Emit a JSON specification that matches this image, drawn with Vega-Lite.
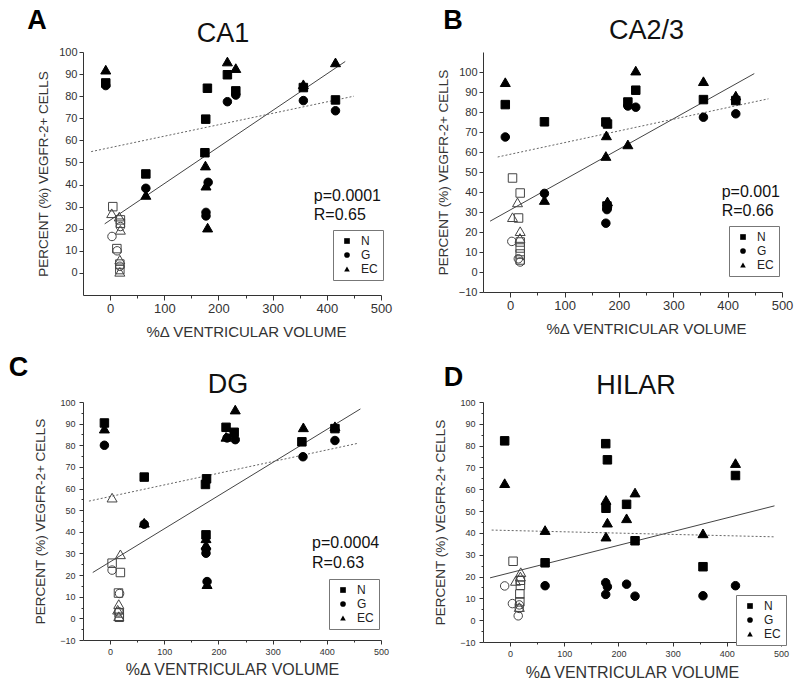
{
  "$schema": "https://vega.github.io/schema/vega-lite/v6.json",
  "padding": {"left": 8, "top": 6, "right": 5, "bottom": 5},
  "background": "white",
  "config": {
    "font": "Liberation Sans",
    "view": {"stroke": null},
    "point": {"opacity": 1},
    "axis": {"grid": false, "domainColor": "#333", "tickColor": "#333", "labelColor": "#333", "titleColor": "#333", "titleFontWeight": "normal", "labelFlush": false, "labelOverlap": false},
    "legend": {"strokeColor": "#777", "padding": 5, "symbolSize": 32, "labelFontSize": 12, "labelColor": "#222", "rowPadding": 2, "labelOffset": 8, "symbolOffset": 3, "symbolFillColor": "#000", "symbolStrokeColor": "#000", "symbolStrokeWidth": 0, "symbolOpacity": 1, "fillColor": "white"}
  },
  "datasets": {
    "pts": [
      {"p":"A","t":"N","o":0,"x":-8,"y":86},{"p":"A","t":"N","o":0,"x":66,"y":44.8},{"p":"A","t":"N","o":0,"x":179.6,"y":83.6},{"p":"A","t":"N","o":0,"x":176.5,"y":69.6},{"p":"A","t":"N","o":0,"x":175,"y":54.4},{"p":"A","t":"N","o":0,"x":216.5,"y":89.7},{"p":"A","t":"N","o":0,"x":232,"y":82.4},{"p":"A","t":"N","o":0,"x":356.7,"y":83.9},{"p":"A","t":"N","o":0,"x":416,"y":78.3},
      {"p":"A","t":"G","o":0,"x":-8,"y":84.8},{"p":"A","t":"G","o":0,"x":66,"y":38.3},{"p":"A","t":"G","o":0,"x":181,"y":41},{"p":"A","t":"G","o":0,"x":177,"y":27.4},{"p":"A","t":"G","o":0,"x":177,"y":25.8},{"p":"A","t":"G","o":0,"x":216.5,"y":77.5},{"p":"A","t":"G","o":0,"x":232,"y":80.5},{"p":"A","t":"G","o":0,"x":356.7,"y":78},{"p":"A","t":"G","o":0,"x":416,"y":73.4},
      {"p":"A","t":"EC","o":0,"x":-8,"y":92},{"p":"A","t":"EC","o":0,"x":66,"y":35.3},{"p":"A","t":"EC","o":0,"x":176,"y":48.6},{"p":"A","t":"EC","o":0,"x":177,"y":39.5},{"p":"A","t":"EC","o":0,"x":180,"y":20.5},{"p":"A","t":"EC","o":0,"x":216.5,"y":95.7},{"p":"A","t":"EC","o":0,"x":232,"y":92.7},{"p":"A","t":"EC","o":0,"x":356.7,"y":85.4},{"p":"A","t":"EC","o":0,"x":416,"y":95.3},
      {"p":"A","t":"N","o":1,"x":5,"y":30},{"p":"A","t":"N","o":1,"x":19,"y":24},{"p":"A","t":"N","o":1,"x":19,"y":22.5},{"p":"A","t":"N","o":1,"x":12.5,"y":11},{"p":"A","t":"N","o":1,"x":18,"y":4},{"p":"A","t":"N","o":1,"x":18,"y":1.5},
      {"p":"A","t":"G","o":1,"x":3.5,"y":16.5},{"p":"A","t":"G","o":1,"x":13,"y":10},{"p":"A","t":"G","o":1,"x":19,"y":21},{"p":"A","t":"G","o":1,"x":18,"y":3},
      {"p":"A","t":"EC","o":1,"x":3,"y":27},{"p":"A","t":"EC","o":1,"x":17,"y":25.5},{"p":"A","t":"EC","o":1,"x":19,"y":19.5},{"p":"A","t":"EC","o":1,"x":18,"y":6},{"p":"A","t":"EC","o":1,"x":18,"y":0.5},

      {"p":"B","t":"N","o":0,"x":-9,"y":83.7},{"p":"B","t":"N","o":0,"x":63,"y":75.1},{"p":"B","t":"N","o":0,"x":176,"y":75},{"p":"B","t":"N","o":0,"x":179,"y":74},{"p":"B","t":"N","o":0,"x":178,"y":33},{"p":"B","t":"N","o":0,"x":216.5,"y":85},{"p":"B","t":"N","o":0,"x":231,"y":90.9},{"p":"B","t":"N","o":0,"x":355.5,"y":86.2},{"p":"B","t":"N","o":0,"x":415,"y":85.7},
      {"p":"B","t":"G","o":0,"x":-9,"y":67.5},{"p":"B","t":"G","o":0,"x":63,"y":39.3},{"p":"B","t":"G","o":0,"x":178,"y":31.2},{"p":"B","t":"G","o":0,"x":176,"y":24.4},{"p":"B","t":"G","o":0,"x":179,"y":32.5},{"p":"B","t":"G","o":0,"x":216.5,"y":83},{"p":"B","t":"G","o":0,"x":231,"y":82.4},{"p":"B","t":"G","o":0,"x":355.5,"y":77.4},{"p":"B","t":"G","o":0,"x":415,"y":79.1},
      {"p":"B","t":"EC","o":0,"x":-9,"y":94.9},{"p":"B","t":"EC","o":0,"x":63,"y":36},{"p":"B","t":"EC","o":0,"x":177,"y":68.3},{"p":"B","t":"EC","o":0,"x":176,"y":58},{"p":"B","t":"EC","o":0,"x":179,"y":35.3},{"p":"B","t":"EC","o":0,"x":216.5,"y":63.8},{"p":"B","t":"EC","o":0,"x":231,"y":100.7},{"p":"B","t":"EC","o":0,"x":355.5,"y":95.4},{"p":"B","t":"EC","o":0,"x":415,"y":88.2},
      {"p":"B","t":"N","o":1,"x":4.3,"y":47},{"p":"B","t":"N","o":1,"x":18.4,"y":39.5},{"p":"B","t":"N","o":1,"x":15.4,"y":27},{"p":"B","t":"N","o":1,"x":18.4,"y":15},{"p":"B","t":"N","o":1,"x":18.4,"y":12},{"p":"B","t":"N","o":1,"x":18.4,"y":9},{"p":"B","t":"N","o":1,"x":18.4,"y":6},
      {"p":"B","t":"G","o":1,"x":3,"y":15.3},{"p":"B","t":"G","o":1,"x":15,"y":6.6},{"p":"B","t":"G","o":1,"x":18.4,"y":5},
      {"p":"B","t":"EC","o":1,"x":13.5,"y":34.8},{"p":"B","t":"EC","o":1,"x":4.3,"y":27.4},{"p":"B","t":"EC","o":1,"x":18.4,"y":20.4},{"p":"B","t":"EC","o":1,"x":18,"y":17},

      {"p":"C","t":"N","o":0,"x":-10.5,"y":90.3},{"p":"C","t":"N","o":0,"x":63,"y":65.3},{"p":"C","t":"N","o":0,"x":178,"y":64.5},{"p":"C","t":"N","o":0,"x":176,"y":61.9},{"p":"C","t":"N","o":0,"x":177,"y":38.6},{"p":"C","t":"N","o":0,"x":214,"y":88.3},{"p":"C","t":"N","o":0,"x":229,"y":86},{"p":"C","t":"N","o":0,"x":354,"y":81.6},{"p":"C","t":"N","o":0,"x":415,"y":87.7},
      {"p":"C","t":"G","o":0,"x":-10.5,"y":80},{"p":"C","t":"G","o":0,"x":63,"y":43.5},{"p":"C","t":"G","o":0,"x":177,"y":32},{"p":"C","t":"G","o":0,"x":177,"y":30.1},{"p":"C","t":"G","o":0,"x":179,"y":17},{"p":"C","t":"G","o":0,"x":216,"y":83.4},{"p":"C","t":"G","o":0,"x":231,"y":82.6},{"p":"C","t":"G","o":0,"x":356,"y":74.7},{"p":"C","t":"G","o":0,"x":415,"y":82.2},
      {"p":"C","t":"EC","o":0,"x":-10.5,"y":87.7},{"p":"C","t":"EC","o":0,"x":63,"y":44.2},{"p":"C","t":"EC","o":0,"x":177,"y":37},{"p":"C","t":"EC","o":0,"x":177,"y":34},{"p":"C","t":"EC","o":0,"x":179,"y":15.8},{"p":"C","t":"EC","o":0,"x":214,"y":83.9},{"p":"C","t":"EC","o":0,"x":231,"y":96.5},{"p":"C","t":"EC","o":0,"x":356.7,"y":88.3},{"p":"C","t":"EC","o":0,"x":415,"y":88.8},
      {"p":"C","t":"N","o":1,"x":3.7,"y":25.5},{"p":"C","t":"N","o":1,"x":19,"y":21.2},{"p":"C","t":"N","o":1,"x":15.5,"y":11.7},{"p":"C","t":"N","o":1,"x":17,"y":2.5},{"p":"C","t":"N","o":1,"x":17,"y":0.5},
      {"p":"C","t":"G","o":1,"x":3.7,"y":22.3},{"p":"C","t":"G","o":1,"x":17.5,"y":11.5},{"p":"C","t":"G","o":1,"x":16,"y":3},
      {"p":"C","t":"EC","o":1,"x":3.7,"y":55.8},{"p":"C","t":"EC","o":1,"x":19,"y":29.6},{"p":"C","t":"EC","o":1,"x":16,"y":6.6},{"p":"C","t":"EC","o":1,"x":14,"y":4},{"p":"C","t":"EC","o":1,"x":16,"y":1},

      {"p":"D","t":"N","o":0,"x":-10,"y":82.2},{"p":"D","t":"N","o":0,"x":64.6,"y":26.3},{"p":"D","t":"N","o":0,"x":176.5,"y":80.9},{"p":"D","t":"N","o":0,"x":179.6,"y":73.5},{"p":"D","t":"N","o":0,"x":177,"y":51.3},{"p":"D","t":"N","o":0,"x":215,"y":53.1},{"p":"D","t":"N","o":0,"x":230.6,"y":36.4},{"p":"D","t":"N","o":0,"x":356,"y":24.5},{"p":"D","t":"N","o":0,"x":416,"y":66.3},
      {"p":"D","t":"G","o":0,"x":64.6,"y":15.8},{"p":"D","t":"G","o":0,"x":176.5,"y":17.2},{"p":"D","t":"G","o":0,"x":179.6,"y":15.3},{"p":"D","t":"G","o":0,"x":176.5,"y":11.8},{"p":"D","t":"G","o":0,"x":215,"y":16.5},{"p":"D","t":"G","o":0,"x":230.6,"y":11},{"p":"D","t":"G","o":0,"x":356,"y":11.2},{"p":"D","t":"G","o":0,"x":416,"y":15.8},
      {"p":"D","t":"EC","o":0,"x":-10,"y":62.8},{"p":"D","t":"EC","o":0,"x":64.6,"y":41.3},{"p":"D","t":"EC","o":0,"x":177,"y":55.1},{"p":"D","t":"EC","o":0,"x":179.6,"y":44.7},{"p":"D","t":"EC","o":0,"x":177,"y":38.3},{"p":"D","t":"EC","o":0,"x":215,"y":46.7},{"p":"D","t":"EC","o":0,"x":230.6,"y":58.5},{"p":"D","t":"EC","o":0,"x":356,"y":39.8},{"p":"D","t":"EC","o":0,"x":416,"y":72},
      {"p":"D","t":"N","o":1,"x":5.5,"y":27},{"p":"D","t":"N","o":1,"x":19,"y":18.3},{"p":"D","t":"N","o":1,"x":19,"y":16},{"p":"D","t":"N","o":1,"x":18,"y":12},{"p":"D","t":"N","o":1,"x":18,"y":8.4},
      {"p":"D","t":"G","o":1,"x":-10,"y":15.7},{"p":"D","t":"G","o":1,"x":4.3,"y":7.6},{"p":"D","t":"G","o":1,"x":17,"y":5.4},{"p":"D","t":"G","o":1,"x":15,"y":2},{"p":"D","t":"G","o":1,"x":17,"y":7},
      {"p":"D","t":"EC","o":1,"x":19.7,"y":22},{"p":"D","t":"EC","o":1,"x":10,"y":18},{"p":"D","t":"EC","o":1,"x":19,"y":20},{"p":"D","t":"EC","o":1,"x":17,"y":6}
    ],
    "lines": [
      {"p":"A","k":"fit","x":-10,"y":22.2},{"p":"A","k":"fit","x":434,"y":95.7},
      {"p":"A","k":"dot","x":-35,"y":54.9},{"p":"A","k":"dot","x":450,"y":80},
      {"p":"B","k":"fit","x":-37,"y":25.4},{"p":"B","k":"fit","x":449,"y":99.2},
      {"p":"B","k":"dot","x":-23,"y":57.5},{"p":"B","k":"dot","x":475,"y":86.6},
      {"p":"C","k":"fit","x":-32,"y":21.2},{"p":"C","k":"fit","x":462,"y":96.8},
      {"p":"C","k":"dot","x":-39,"y":54.2},{"p":"C","k":"dot","x":459,"y":81},
      {"p":"D","k":"fit","x":-37,"y":19.4},{"p":"D","k":"fit","x":488,"y":52.4},
      {"p":"D","k":"dot","x":-34,"y":41.3},{"p":"D","k":"dot","x":488,"y":38.2}
    ],
    "notes": [
      {"p":"A","k":"letter","s":"A","x":-135,"y":110.4},
      {"p":"A","k":"head","s":"CA1","x":208.4,"y":104.75},
      {"p":"A","k":"stat","s":"p=0.0001","x":376,"y":32.5},
      {"p":"A","k":"stat","s":"R=0.65","x":376,"y":23.8},
      {"p":"B","k":"letter","s":"B","x":-105.4,"y":121.5},
      {"p":"B","k":"head","s":"CA2/3","x":250.9,"y":116.75},
      {"p":"B","k":"stat","s":"p=0.001","x":389,"y":37.5},
      {"p":"B","k":"stat","s":"R=0.66","x":389,"y":28},
      {"p":"C","k":"letter","s":"C","x":-169,"y":112},
      {"p":"C","k":"head","s":"DG","x":217.6,"y":104.2},
      {"p":"C","k":"stat","s":"p=0.0004","x":372.7,"y":32.7},
      {"p":"C","k":"stat","s":"R=0.63","x":372.7,"y":23.4},
      {"p":"D","k":"letter","s":"D","x":-104.4,"y":107.3},
      {"p":"D","k":"head","s":"HILAR","x":232.4,"y":103.7}
    ]
  },
  "columns": 2,
  "bounds": "flush",
  "spacing": {"row": 107, "column": 102},
  "resolve": {"scale": {"shape": "independent", "x": "independent", "y": "independent"}, "legend": {"shape": "independent"}},
  "concat": [
    {
      "width": 298, "height": 243,
      "encoding": {
        "x": {"field": "x", "type": "quantitative", "scale": {"domain": [-50, 500], "nice": false, "zero": false},
          "axis": {"title": "%Δ VENTRICULAR VOLUME", "titleX": 163, "values": [0,50,100,150,200,250,300,350,400,450,500], "labelExpr": "datum.value % 100 === 0 ? datum.label : ''", "tickSize": {"condition": {"test": "datum.value % 100 === 0", "value": 5}, "value": 3}, "labelFontSize": 13, "titleFontSize": 15, "labelPadding": 2, "titlePadding": 9}},
        "y": {"field": "y", "type": "quantitative", "scale": {"domain": [-10, 100], "nice": false, "zero": false},
          "axis": {"title": "PERCENT (%) VEGFR-2+ CELLS", "values": [0,10,20,30,40,50,60,70,80,90,100], "labelFontSize": 11, "titleFontSize": 13.5, "tickSize": 4, "labelPadding": 2, "titlePadding": 8}}
      },
      "layer": [
        {"data": {"name": "lines"}, "transform": [{"filter": "datum.p === 'A' && datum.k === 'fit'"}], "mark": {"type": "line", "stroke": "#444", "strokeWidth": 1}},
        {"data": {"name": "lines"}, "transform": [{"filter": "datum.p === 'A' && datum.k === 'dot'"}], "mark": {"type": "line", "stroke": "#666", "strokeWidth": 1, "strokeDash": [2, 2]}},
        {"data": {"name": "pts"}, "transform": [{"filter": "datum.p === 'A'"}], "mark": {"type": "point", "filled": true, "strokeWidth": 1, "opacity": 1},
          "encoding": {
            "shape": {"field": "t", "type": "nominal", "scale": {"domain": ["N", "G", "EC"], "range": ["square", "circle", "triangle-up"]}, "legend": {"title": null, "orient": "none", "legendX": 250, "legendY": 178}},
            "size": {"condition": {"test": "datum.t === 'EC'", "value": 100}, "value": 72},
            "fill": {"value": "#000"},
            "fillOpacity": {"condition": {"test": "datum.o === 1", "value": 0}, "value": 1},
            "stroke": {"condition": {"test": "datum.o === 1", "value": "#444"}, "value": "#000"}
          }},
        {"data": {"name": "notes"}, "transform": [{"filter": "datum.p === 'A' && datum.k === 'stat'"}], "mark": {"type": "text", "align": "left", "baseline": "alphabetic", "fontSize": 16, "color": "#111"}, "encoding": {"text": {"field": "s"}}},
        {"data": {"name": "notes"}, "transform": [{"filter": "datum.p === 'A' && datum.k === 'head'"}], "mark": {"type": "text", "align": "center", "baseline": "alphabetic", "fontSize": 27, "color": "#111"}, "encoding": {"text": {"field": "s"}}},
        {"data": {"name": "notes"}, "transform": [{"filter": "datum.p === 'A' && datum.k === 'letter'"}], "mark": {"type": "text", "align": "center", "baseline": "alphabetic", "fontSize": 27, "fontWeight": "bold", "color": "#000"}, "encoding": {"text": {"field": "s"}}}
      ]
    },
    {
      "width": 299, "height": 240,
      "encoding": {
        "x": {"field": "x", "type": "quantitative", "scale": {"domain": [-50, 500], "nice": false, "zero": false},
          "axis": {"title": "%Δ VENTRICULAR VOLUME", "titleX": 163, "values": [0,50,100,150,200,250,300,350,400,450,500], "labelExpr": "datum.value % 100 === 0 ? datum.label : ''", "tickSize": {"condition": {"test": "datum.value % 100 === 0", "value": 5}, "value": 3}, "labelFontSize": 13, "titleFontSize": 15, "labelPadding": 2, "titlePadding": 9}},
        "y": {"field": "y", "type": "quantitative", "scale": {"domain": [-10, 110], "nice": false, "zero": false},
          "axis": {"title": "PERCENT (%) VEGFR-2+ CELLS", "values": [-10,0,10,20,30,40,50,60,70,80,90,100], "labelFontSize": 11, "titleFontSize": 13.5, "tickSize": 4, "labelPadding": 2, "titlePadding": 8}}
      },
      "layer": [
        {"data": {"name": "lines"}, "transform": [{"filter": "datum.p === 'B' && datum.k === 'fit'"}], "mark": {"type": "line", "stroke": "#444", "strokeWidth": 1}},
        {"data": {"name": "lines"}, "transform": [{"filter": "datum.p === 'B' && datum.k === 'dot'"}], "mark": {"type": "line", "stroke": "#666", "strokeWidth": 1, "strokeDash": [2, 2]}},
        {"data": {"name": "pts"}, "transform": [{"filter": "datum.p === 'B'"}], "mark": {"type": "point", "filled": true, "strokeWidth": 1, "opacity": 1},
          "encoding": {
            "shape": {"field": "t", "type": "nominal", "scale": {"domain": ["N", "G", "EC"], "range": ["square", "circle", "triangle-up"]}, "legend": {"title": null, "orient": "none", "legendX": 246, "legendY": 174}},
            "size": {"condition": {"test": "datum.t === 'EC'", "value": 100}, "value": 72},
            "fill": {"value": "#000"},
            "fillOpacity": {"condition": {"test": "datum.o === 1", "value": 0}, "value": 1},
            "stroke": {"condition": {"test": "datum.o === 1", "value": "#444"}, "value": "#000"}
          }},
        {"data": {"name": "notes"}, "transform": [{"filter": "datum.p === 'B' && datum.k === 'stat'"}], "mark": {"type": "text", "align": "left", "baseline": "alphabetic", "fontSize": 16, "color": "#111"}, "encoding": {"text": {"field": "s"}}},
        {"data": {"name": "notes"}, "transform": [{"filter": "datum.p === 'B' && datum.k === 'head'"}], "mark": {"type": "text", "align": "center", "baseline": "alphabetic", "fontSize": 27, "color": "#111"}, "encoding": {"text": {"field": "s"}}},
        {"data": {"name": "notes"}, "transform": [{"filter": "datum.p === 'B' && datum.k === 'letter'"}], "mark": {"type": "text", "align": "center", "baseline": "alphabetic", "fontSize": 27, "fontWeight": "bold", "color": "#000"}, "encoding": {"text": {"field": "s"}}}
      ]
    },
    {
      "width": 298, "height": 238,
      "encoding": {
        "x": {"field": "x", "type": "quantitative", "scale": {"domain": [-50, 500], "nice": false, "zero": false},
          "axis": {"title": "%Δ VENTRICULAR VOLUME", "values": [0,50,100,150,200,250,300,350,400,450,500], "labelExpr": "datum.value % 100 === 0 ? datum.label : ''", "tickSize": {"condition": {"test": "datum.value % 100 === 0", "value": 4}, "value": 2}, "labelFontSize": 9, "titleFontSize": 16, "labelPadding": 3, "titlePadding": 5}},
        "y": {"field": "y", "type": "quantitative", "scale": {"domain": [-10, 100], "nice": false, "zero": false},
          "axis": {"title": "PERCENT (%) VEGFR-2+ CELLS", "values": [-10,-5,0,5,10,15,20,25,30,35,40,45,50,55,60,65,70,75,80,85,90,95,100], "labelExpr": "datum.value % 10 === 0 ? datum.label : ''", "tickSize": {"condition": {"test": "datum.value % 10 === 0", "value": 4}, "value": 2}, "labelFontSize": 9, "titleFontSize": 13.5, "labelPadding": 4, "titlePadding": 12}}
      },
      "layer": [
        {"data": {"name": "lines"}, "transform": [{"filter": "datum.p === 'C' && datum.k === 'fit'"}], "mark": {"type": "line", "stroke": "#444", "strokeWidth": 1}},
        {"data": {"name": "lines"}, "transform": [{"filter": "datum.p === 'C' && datum.k === 'dot'"}], "mark": {"type": "line", "stroke": "#666", "strokeWidth": 1, "strokeDash": [2, 2]}},
        {"data": {"name": "pts"}, "transform": [{"filter": "datum.p === 'C'"}], "mark": {"type": "point", "filled": true, "strokeWidth": 1, "opacity": 1},
          "encoding": {
            "shape": {"field": "t", "type": "nominal", "scale": {"domain": ["N", "G", "EC"], "range": ["square", "circle", "triangle-up"]}, "legend": {"title": null, "orient": "none", "legendX": 246, "legendY": 177}},
            "size": {"condition": {"test": "datum.t === 'EC'", "value": 100}, "value": 72},
            "fill": {"value": "#000"},
            "fillOpacity": {"condition": {"test": "datum.o === 1", "value": 0}, "value": 1},
            "stroke": {"condition": {"test": "datum.o === 1", "value": "#444"}, "value": "#000"}
          }},
        {"data": {"name": "notes"}, "transform": [{"filter": "datum.p === 'C' && datum.k === 'stat'"}], "mark": {"type": "text", "align": "left", "baseline": "alphabetic", "fontSize": 16, "color": "#111"}, "encoding": {"text": {"field": "s"}}},
        {"data": {"name": "notes"}, "transform": [{"filter": "datum.p === 'C' && datum.k === 'head'"}], "mark": {"type": "text", "align": "center", "baseline": "alphabetic", "fontSize": 27, "color": "#111"}, "encoding": {"text": {"field": "s"}}},
        {"data": {"name": "notes"}, "transform": [{"filter": "datum.p === 'C' && datum.k === 'letter'"}], "mark": {"type": "text", "align": "center", "baseline": "alphabetic", "fontSize": 27, "fontWeight": "bold", "color": "#000"}, "encoding": {"text": {"field": "s"}}}
      ]
    },
    {
      "width": 298, "height": 240,
      "encoding": {
        "x": {"field": "x", "type": "quantitative", "scale": {"domain": [-50, 500], "nice": false, "zero": false},
          "axis": {"title": "%Δ VENTRICULAR VOLUME", "values": [0,50,100,150,200,250,300,350,400,450,500], "labelExpr": "datum.value % 100 === 0 ? datum.label : ''", "tickSize": {"condition": {"test": "datum.value % 100 === 0", "value": 4}, "value": 2}, "labelFontSize": 9, "titleFontSize": 16, "labelPadding": 3, "titlePadding": 6}},
        "y": {"field": "y", "type": "quantitative", "scale": {"domain": [-10, 100], "nice": false, "zero": false},
          "axis": {"title": "PERCENT (%) VEGFR-2+ CELLS", "values": [-10,-5,0,5,10,15,20,25,30,35,40,45,50,55,60,65,70,75,80,85,90,95,100], "labelExpr": "datum.value % 10 === 0 ? datum.label : ''", "tickSize": {"condition": {"test": "datum.value % 10 === 0", "value": 4}, "value": 2}, "labelFontSize": 9, "titleFontSize": 13.5, "labelPadding": 4, "titlePadding": 12}}
      },
      "layer": [
        {"data": {"name": "lines"}, "transform": [{"filter": "datum.p === 'D' && datum.k === 'fit'"}], "mark": {"type": "line", "stroke": "#444", "strokeWidth": 1}},
        {"data": {"name": "lines"}, "transform": [{"filter": "datum.p === 'D' && datum.k === 'dot'"}], "mark": {"type": "line", "stroke": "#666", "strokeWidth": 1, "strokeDash": [2, 2]}},
        {"data": {"name": "pts"}, "transform": [{"filter": "datum.p === 'D'"}], "mark": {"type": "point", "filled": true, "strokeWidth": 1, "opacity": 1},
          "encoding": {
            "shape": {"field": "t", "type": "nominal", "scale": {"domain": ["N", "G", "EC"], "range": ["square", "circle", "triangle-up"]}, "legend": {"title": null, "orient": "none", "legendX": 253, "legendY": 193}},
            "size": {"condition": {"test": "datum.t === 'EC'", "value": 100}, "value": 72},
            "fill": {"value": "#000"},
            "fillOpacity": {"condition": {"test": "datum.o === 1", "value": 0}, "value": 1},
            "stroke": {"condition": {"test": "datum.o === 1", "value": "#444"}, "value": "#000"}
          }},
        {"data": {"name": "notes"}, "transform": [{"filter": "datum.p === 'D' && datum.k === 'head'"}], "mark": {"type": "text", "align": "center", "baseline": "alphabetic", "fontSize": 27, "color": "#111"}, "encoding": {"text": {"field": "s"}}},
        {"data": {"name": "notes"}, "transform": [{"filter": "datum.p === 'D' && datum.k === 'letter'"}], "mark": {"type": "text", "align": "center", "baseline": "alphabetic", "fontSize": 27, "fontWeight": "bold", "color": "#000"}, "encoding": {"text": {"field": "s"}}}
      ]
    }
  ]
}
